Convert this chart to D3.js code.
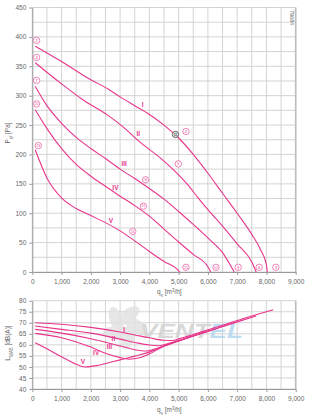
<!DOCTYPE html>
<html><head><meta charset="utf-8">
<script src="https://cdn.jsdelivr.net/npm/d3@7"></script>
<style>
body{margin:0;background:#fff}
text{font-family:"Liberation Sans",Arial,sans-serif}
</style>
</head><body>
<svg width="309" height="416"></svg>
<script>
// fan curves, [q m3/h, value]
var curveNames = ["I", "II", "III", "IV", "V"];

var pressI = [[100,384],[1000,358],[2000,327],[2600,311],[3000,298],[3500,283],[4000,268],[4500,250],[5000,228],[5500,200],[6000,168],[6500,134],[7000,100],[7500,64],[7800,38],[8000,12],[8030,0]];
var pressII = [[100,356],[1000,320],[1700,294],[2600,266],[3100,247],[3700,220],[4400,193],[4800,175],[5300,149],[5700,124],[6000,106],[6500,78],[7000,48],[7500,17],[7650,0]];
var pressIII = [[100,316],[500,283],[1000,253],[1500,229],[2000,210],[2500,193],[3000,175],[3500,159],[4000,142],[4500,124],[5000,103],[5500,81],[6000,58],[6500,33],[6900,0]];
var pressIV = [[100,276],[500,244],[1000,210],[1500,183],[2000,163],[2500,146],[3000,129],[3500,113],[4000,95],[4500,73],[5000,51],[5500,30],[6000,9],[6100,0]];
var pressV = [[100,208],[500,160],[1000,126],[1500,108],[2000,96],[2500,84],[3000,70],[3500,53],[4000,35],[4500,18],[5000,2],[5030,0]];

var soundI = [[100,70],[1000,69.3],[2000,67.9],[3000,65.8],[3500,64.5],[4000,63.2],[4500,62.1],[4800,62],[5000,62.7],[5500,64.7],[6000,66.8],[6500,68.9],[7000,71],[7500,73.1],[8000,75],[8230,75.9]];
var soundII = [[100,68.5],[1000,67],[2000,65.3],[3000,62.6],[3500,61.1],[4000,59.9],[4300,59.6],[4700,60.8],[5000,62],[5500,64.1],[6000,66.2],[6500,68.3],[7000,70.4],[7650,73.1]];
var soundIII = [[100,67],[1000,65.3],[2000,62.8],[3000,59.5],[3500,57.8],[3900,57.2],[4300,58.6],[4700,60.4],[5000,61.8],[5500,64],[6000,66.1],[6500,68.3],[6900,70]];
var soundIV = [[100,65.2],[1000,63.2],[2000,59],[2500,56.2],[3000,54.2],[3300,53.5],[3700,54.3],[4000,55.9],[4500,59.4],[5000,61.7],[5500,64],[6080,66.5]];
var soundV = [[100,61],[500,58.2],[1000,54.6],[1500,51.2],[1800,50],[2200,50.6],[2700,52.2],[3000,53.2],[3500,54.9],[4000,56.7],[4500,59.6],[5030,62]];

// annotations (data units)
var startMarks = [[1, 147, 394], [4, 147, 365], [7, 147, 326], [10, 147, 286], [13, 205, 215]];
var midMarks = [[2, 5250, 239], [5, 4988, 184], [8, 3870, 157], [11, 3795, 112], [14, 3433, 69]];
var endMarks = [[3, 8320, 8], [6, 7750, 8], [9, 7035, 8], [12, 6275, 8], [15, 5250, 8]];
var opPoint = [4893, 234];
var romanTop = [[3774, 285], [3624, 236], [3137, 184], [2840, 143], [2683, 88]];
var romanBottom = [[3137, 67], [2772, 63], [2636, 59.2], [2182, 56.4], [1729, 52.4]];

var pressTicks = d3.range(0, 451, 50);
var soundTicks = d3.range(40, 81, 5);
var flowTicks = d3.range(0, 9001, 1000);

var svg = d3.select("svg");
var pink = "#e8358b";
var gridColor = "#cfcfcf";

var x = d3.scaleLinear().domain([0, 9000]).range([32.3, 295.7]);
var yP = d3.scaleLinear().domain([0, 450]).range([272, 7.5]);
var yL = d3.scaleLinear().domain([40, 80]).range([389, 300.7]);

function grid(y, step) {
    var g = svg.append("g");
    var d = y.domain();
    g.selectAll(".v").data(d3.range(0, 9001, 500)).enter().append("line")
        .attr("x1", x).attr("x2", x)
        .attr("y1", y(d[0])).attr("y2", y(d[1]))
        .attr("stroke", gridColor).attr("stroke-width", 0.9);
    g.selectAll(".h").data(d3.range(d[0], d[1] + 0.01, step)).enter().append("line")
        .attr("x1", x(0)).attr("x2", x(9000))
        .attr("y1", y).attr("y2", y)
        .attr("stroke", gridColor).attr("stroke-width", 0.9);
    // right frame
    g.append("line").attr("x1", x(9000)).attr("x2", x(9000))
        .attr("y1", y(d[0])).attr("y2", y(d[1]))
        .attr("stroke", "#bdbdbd").attr("stroke-width", 1.6);
}

function axes(y, ticks) {
    var d = y.domain();
    var ya = svg.append("g").attr("transform", "translate(" + x(0) + ",0)")
        .call(d3.axisLeft(y).tickValues(ticks).tickSize(3).tickSizeOuter(0).tickPadding(3));
    var xa = svg.append("g").attr("transform", "translate(0," + y(d[0]) + ")")
        .call(d3.axisBottom(x).tickValues(flowTicks).tickFormat(d3.format(",")).tickSize(3).tickSizeOuter(0).tickPadding(4.5));
    [ya, xa].forEach(function(a) {
        a.select(".domain").attr("stroke", "#9a9a9a").attr("stroke-width", 1);
        a.selectAll(".tick line").attr("stroke", "#9a9a9a");
        a.selectAll("text").attr("fill", "#666").style("font-size", "6.5px")
            .style("font-family", "'Liberation Sans',Arial,sans-serif");
    });
}

function flowTitle(yPos) {
    var t = svg.append("text").attr("x", 157).attr("y", yPos)
        .attr("fill", "#666").style("font-size", "6.5px");
    t.append("tspan").text("q");
    t.append("tspan").attr("baseline-shift", "sub").style("font-size", "4.5px").text("v");
    t.append("tspan").text(" [m");
    t.append("tspan").attr("baseline-shift", "super").style("font-size", "4.5px").text("3");
    t.append("tspan").text("/h]");
}

function yTitle(cy, main, sub, rest) {
    var t = svg.append("text").attr("transform", "translate(10," + cy + ") rotate(-90)")
        .attr("text-anchor", "middle").attr("fill", "#666").style("font-size", "6.5px");
    t.append("tspan").text(main);
    t.append("tspan").attr("baseline-shift", "sub").style("font-size", "4.5px").text(sub);
    t.append("tspan").attr("baseline-shift", "0").text(rest);
}

function circled(q, v, y, n) {
    var g = svg.append("g").attr("transform", "translate(" + x(q) + "," + y(v) + ")");
    g.append("circle").attr("r", 3.2).attr("fill", "#fff").attr("stroke", pink).attr("stroke-width", 0.6);
    g.append("text").attr("text-anchor", "middle").attr("dy", "0.35em")
        .attr("fill", pink).style("font-size", n > 9 ? "3.4px" : "4.2px").text(n);
}

grid(yP, 25);
grid(yL, 5);

// watermark logo, faint, behind curves
var wm = svg.append("g").attr("opacity", 0.85);
var fc = [125, 326];
[0, 72, 144, 216, 288].forEach(function(a) {
    var r = a * Math.PI / 180;
    var cx = fc[0] + 11 * Math.cos(r), cy = fc[1] + 11 * Math.sin(r);
    wm.append("ellipse")
        .attr("cx", cx).attr("cy", cy)
        .attr("rx", 13).attr("ry", 6.5)
        .attr("transform", "rotate(" + (a + 35) + "," + cx + "," + cy + ")")
        .attr("fill", "#e2e2e2");
});
var logo = wm.append("text").attr("x", 140).attr("y", 338)
    .attr("textLength", 103).attr("lengthAdjust", "spacingAndGlyphs")
    .style("font-size", "21px").style("font-weight", "bold").style("font-style", "italic");
logo.append("tspan").attr("fill", "#d2d2d2").text("VENT");
logo.append("tspan").attr("fill", "#b3d8f0").text("EL");

axes(yP, pressTicks);
axes(yL, soundTicks);
flowTitle(294);
flowTitle(412);
yTitle(133, "P", "sf", " [Pa]");
yTitle(343, "L", "WA5", " [dB(A)]");

svg.append("text").attr("transform", "translate(290,10) rotate(90)")
    .attr("fill", "#666").style("font-size", "5.5px").text("79684");

// curves
var pressCurves = [pressI, pressII, pressIII, pressIV, pressV];
var soundCurves = [soundI, soundII, soundIII, soundIV, soundV];

var lineP = d3.line().x(function(d) { return x(d[0]); }).y(function(d) { return yP(d[1]); }).curve(d3.curveMonotoneX);
var lineL = d3.line().x(function(d) { return x(d[0]); }).y(function(d) { return yL(d[1]); }).curve(d3.curveMonotoneX);

svg.append("g").selectAll("path").data(pressCurves).enter().append("path")
    .attr("d", lineP).attr("fill", "none").attr("stroke", pink).attr("stroke-width", 1.1);
svg.append("g").selectAll("path").data(soundCurves).enter().append("path")
    .attr("d", lineL).attr("fill", "none").attr("stroke", pink).attr("stroke-width", 1.1);

startMarks.concat(midMarks, endMarks).forEach(function(m) { circled(m[1], m[2], yP, m[0]); });

var op = svg.append("g").attr("transform", "translate(" + x(opPoint[0]) + "," + yP(opPoint[1]) + ")");
op.append("circle").attr("r", 3.2).attr("fill", "#d8d8d8").attr("stroke", "#555").attr("stroke-width", 0.8);
op.append("text").attr("text-anchor", "middle").attr("dy", "0.35em").attr("fill", "#333")
    .style("font-size", "3.6px").text("11");

function roman(list, y) {
    svg.append("g").selectAll("text").data(list).enter().append("text")
        .attr("x", function(d) { return x(d[0]); })
        .attr("y", function(d) { return y(d[1]); })
        .attr("dy", "0.35em").attr("text-anchor", "middle")
        .attr("fill", pink).style("font-size", "6.5px").style("font-weight", "bold")
        .text(function(d, i) { return curveNames[i]; });
}
roman(romanTop, yP);
roman(romanBottom, yL);
</script>
</body></html>
